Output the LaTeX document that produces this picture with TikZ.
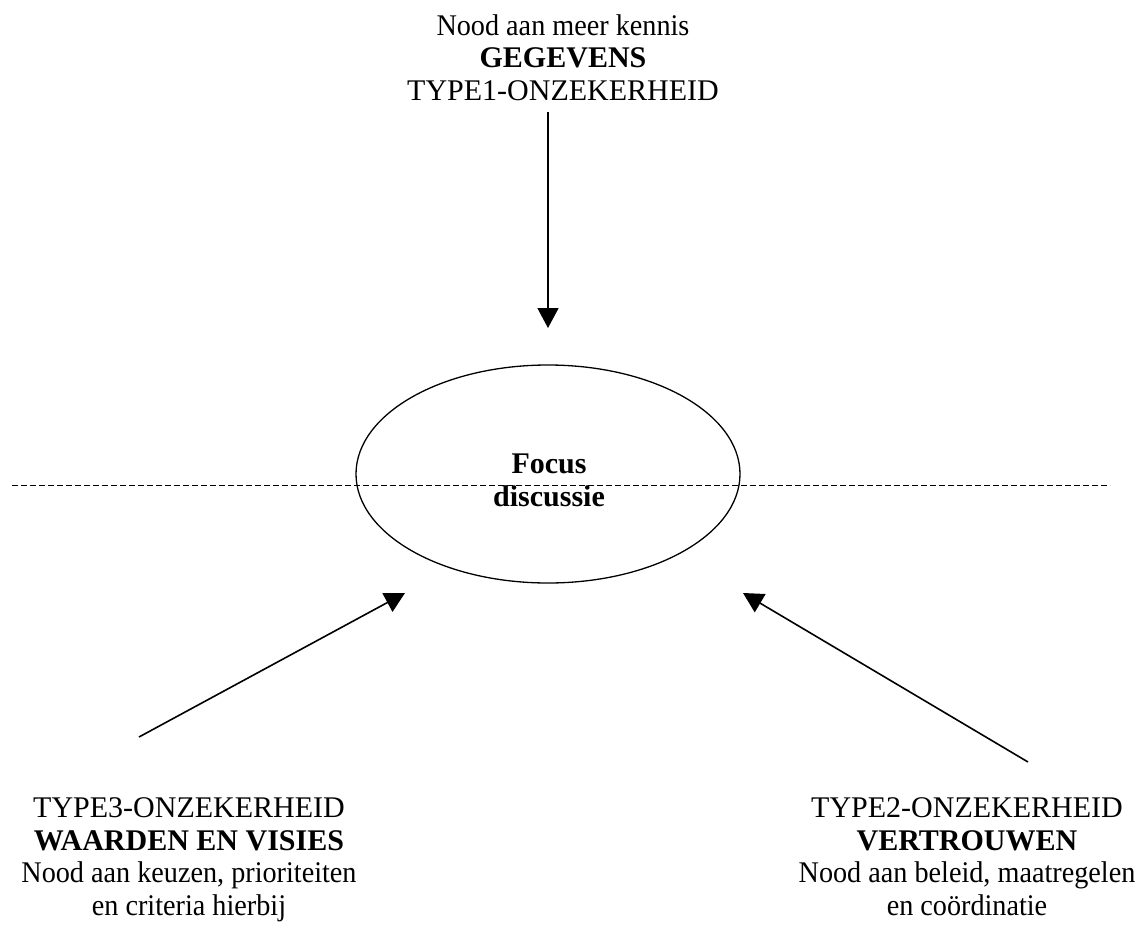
\documentclass[tikz,border=0pt]{standalone}
\usepackage{fontspec}
\setmainfont{Liberation Serif}
\newfontfamily\nrwfont[FakeStretch=0.94]{Liberation Serif}
\usetikzlibrary{arrows.meta, shapes.geometric}

\begin{document}
\begin{tikzpicture}[x=1pt,y=-1pt,>={Triangle[length=20pt,width=21pt]},line width=1.6pt]
	
	\tikzset{txt/.style={align=center, inner sep=0pt,
			font=\fontsize{30}{32.5}\selectfont}}
	\tikzset{focus st/.style={ellipse, draw, line width=1.3pt,
			minimum width=384pt, minimum height=218pt, inner sep=0pt}}
	
	\useasboundingbox (0,0) rectangle (1140,924);
	
	\node[focus st] (F) at (548,474) {};
	\node[txt, anchor=base, font=\fontsize{30}{33}\selectfont\bfseries] (Ft) at (549,506) {Focus\\discussie};
	
	\node[txt, anchor=base] (G) at (563,100) {{\nrwfont Nood aan meer kennis}\\\textbf{GEGEVENS}\\TYPE1-ONZEKERHEID};
	\node[txt, anchor=base] (W) at (189,915) {TYPE3-ONZEKERHEID\\\textbf{WAARDEN EN VISIES}\\{\nrwfont Nood aan keuzen, prioriteiten}\\{\nrwfont en criteria hierbij}};
	\node[txt, anchor=base] (V) at (967,915) {TYPE2-ONZEKERHEID\\\textbf{VERTROUWEN}\\{\nrwfont Nood aan beleid, maatregelen}\\{\nrwfont en co\"ordinatie}};
	
	% ends of the connectors
	\coordinate (gs) at (548,112);
	\coordinate (gt) at (548,328);
	\coordinate (ws) at (139,737);
	\coordinate (wt) at (405,593);
	\coordinate (vs) at (1028,762);
	\coordinate (vt) at (743,593);
	\coordinate (dl) at (12,485);
	\coordinate (dr) at (1110,485);
	
	\draw[line width=1pt, dash pattern=on 6pt off 3pt] (dl) -- (dr);
	
	\draw
	(gs) edge [->] (gt)
	(ws) edge [->] (wt)
	(vs) edge [->] (vt);
\end{tikzpicture}
\end{document}
